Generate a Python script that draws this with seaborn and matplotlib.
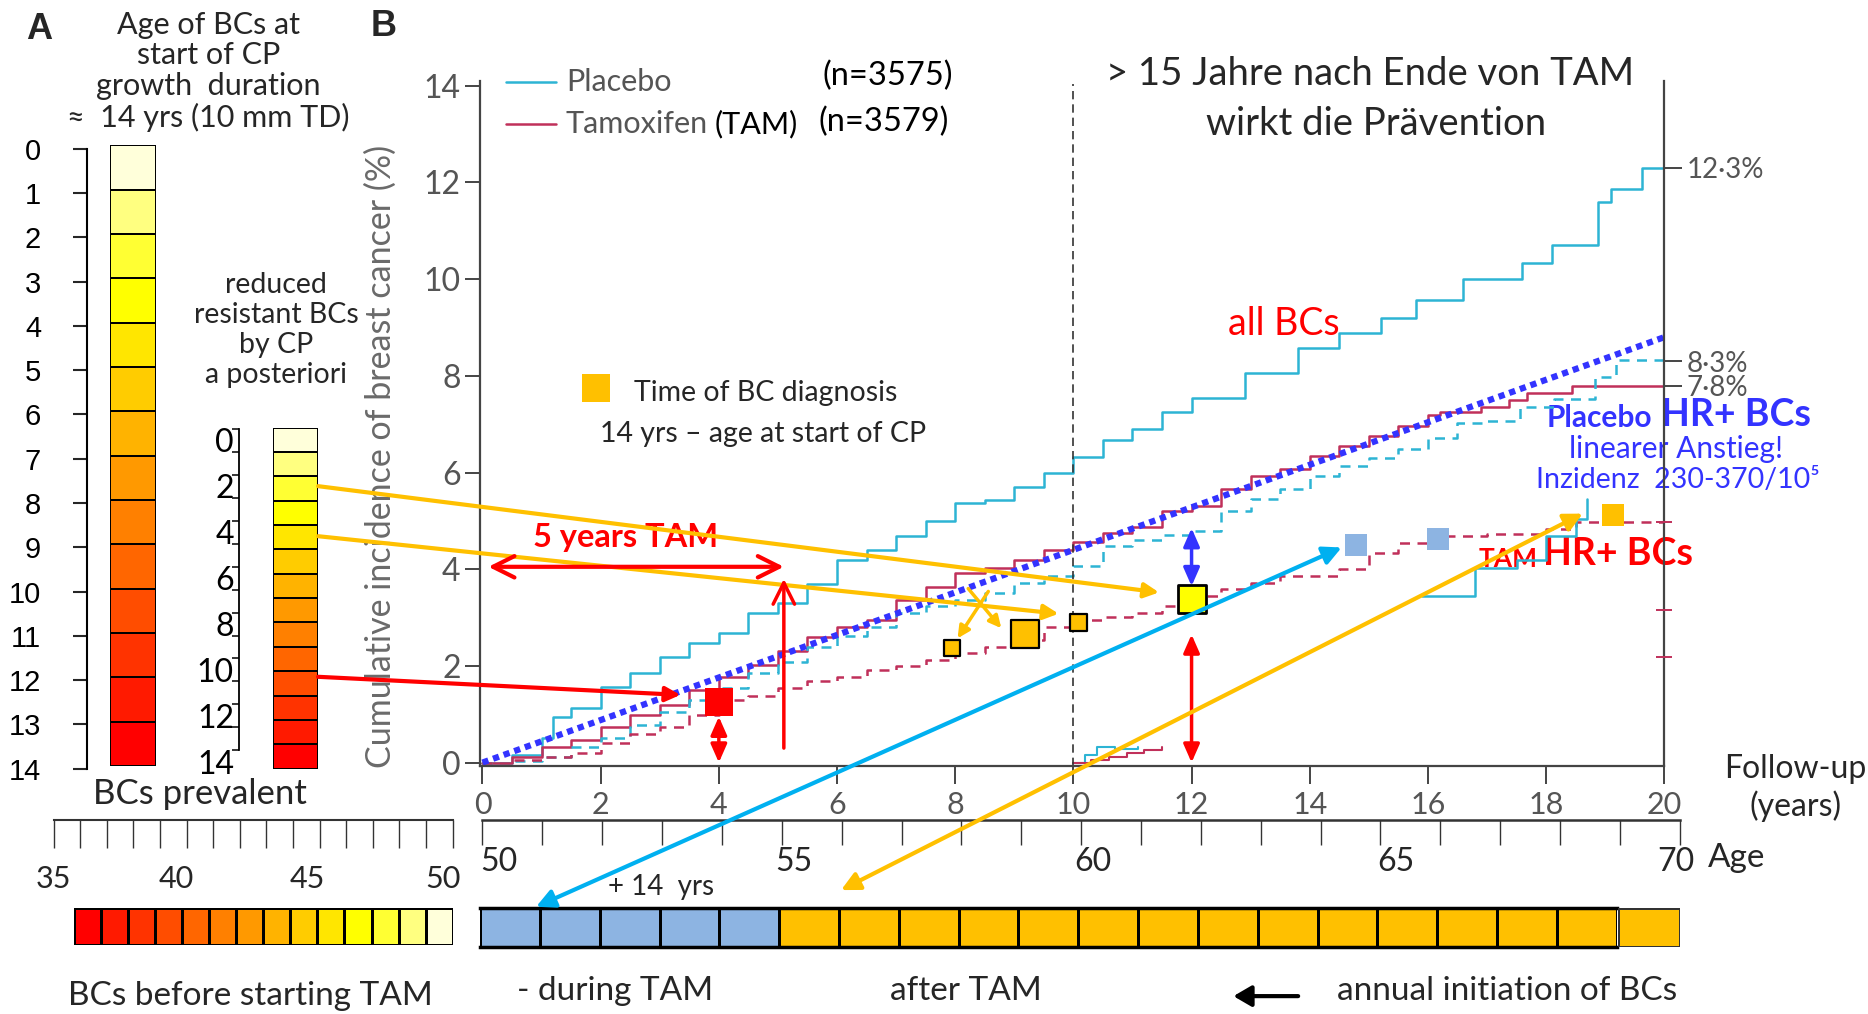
import matplotlib
matplotlib.use('Agg')
import numpy as np
import pandas as pd
import matplotlib.pyplot as plt
import matplotlib.transforms as mtransforms
import seaborn as sns
from matplotlib.colors import ListedColormap
from matplotlib.lines import Line2D
from matplotlib.patches import FancyArrowPatch

# ---------------- data ----------------
placebo_all_t = [0, 0.5, 1, 1.2, 1.5, 2, 2.5, 3, 3.5, 4, 4.5, 5, 5.5, 6, 6.5, 7, 7.5, 8, 8.5, 9,
                 9.5, 10, 10.5, 11, 11.5, 12, 12.9, 13.8, 14.5, 15.2, 15.8, 16.6, 17.6, 18.1,
                 18.7, 18.87, 19.1, 19.63, 20]
placebo_all_y = [0, 0.15, 0.5, 0.95, 1.12, 1.57, 1.85, 2.19, 2.47, 2.68, 3.1, 3.3, 3.7, 4.2, 4.4,
                 4.68, 5.0, 5.37, 5.43, 5.7, 6.0, 6.33, 6.68, 6.9, 7.26, 7.55, 8.05, 8.57, 8.88,
                 9.2, 9.56, 10.0, 10.33, 10.7, 10.7, 11.6, 11.87, 12.3, 12.3]

tam_all_t = [0, 0.5, 1, 1.5, 2, 2.5, 3, 3.5, 4, 4.5, 5, 5.5, 6, 6.5, 7, 7.5, 8, 8.5, 9, 9.5, 10,
             10.5, 11, 11.5, 12, 12.5, 13, 13.5, 14, 14.5, 15, 15.5, 16, 16.2, 16.9, 17.37,
             17.68, 18.43, 20]
tam_all_y = [0, 0.12, 0.33, 0.47, 0.74, 0.99, 1.19, 1.5, 1.78, 2.02, 2.3, 2.6, 2.81, 2.95, 3.37,
             3.64, 3.92, 4.02, 4.2, 4.4, 4.57, 4.74, 4.88, 5.2, 5.3, 5.66, 5.93, 6.07, 6.34, 6.55,
             6.76, 6.97, 7.2, 7.26, 7.35, 7.5, 7.65, 7.8, 7.8]

placebo_hr_t = [0, 0.5, 1, 1.5, 2, 2.5, 3, 3.5, 4, 4.5, 5, 5.5, 6, 6.5, 7, 7.5, 8, 8.5, 9, 9.5,
                10, 10.5, 11, 11.5, 12, 12.5, 13, 13.5, 14, 14.5, 15, 15.5, 16, 16.5, 17, 17.55,
                18.13, 18.83, 19.18, 20]
placebo_hr_y = [0, 0.04, 0.12, 0.33, 0.5, 0.78, 1.05, 1.3, 1.54, 1.85, 2.09, 2.4, 2.61, 2.81,
                3.09, 3.23, 3.37, 3.5, 3.71, 3.85, 4.06, 4.47, 4.6, 4.7, 4.8, 5.2, 5.45, 5.66,
                5.93, 6.14, 6.31, 6.48, 6.72, 7.03, 7.07, 7.35, 7.52, 7.97, 8.32, 8.32]

tam_hr_t = [0, 0.5, 1, 1.5, 2, 2.5, 3, 3.5, 4, 4.5, 5, 5.5, 6, 6.5, 7, 7.5, 8, 8.5, 9, 9.5, 10,
            10.5, 11, 11.5, 12, 12.5, 13, 13.5, 14.5, 15, 15.5, 16, 17, 18, 18.5, 20]
tam_hr_y = [0, 0.06, 0.12, 0.19, 0.4, 0.6, 0.74, 0.99, 1.3, 1.37, 1.54, 1.68, 1.78, 1.92, 1.99,
            2.12, 2.26, 2.4, 2.54, 2.81, 2.95, 3.02, 3.09, 3.23, 3.45, 3.59, 3.72, 3.86, 4.0,
            4.34, 4.55, 4.69, 4.72, 4.83, 4.97, 4.97]

inset_placebo_t = [10.0, 10.2, 10.4, 10.7, 11.1]
inset_placebo_y = [0.0, 0.15, 0.33, 0.28, 0.33]
inset_tam_t = [10.0, 10.3, 10.6, 10.9, 11.2, 11.5]
inset_tam_y = [0.0, 0.05, 0.12, 0.2, 0.27, 0.33]
late_placebo_t = [15.9, 16.8, 17.5, 18.0, 18.5, 18.7]
late_placebo_y = [3.45, 4.03, 4.2, 4.69, 5.03, 5.45]

linear_trend_t = [0, 20]
linear_trend_y = [0, 8.8]

diag_red_t, diag_red_y = [4.0], [1.26]
diag_orange_t = [7.95, 9.18, 10.08]
diag_orange_y = [2.37, 2.66, 2.9]
diag_yellow_t, diag_yellow_y = [12.0], [3.39]
diag_blue_t = [14.79, 16.17]
diag_blue_y = [4.5, 4.62]
diag_late_t, diag_late_y = [19.13], [5.12]

end_values = [12.3, 8.3, 7.8]
end_labels = ['12·3%', '8·3%', '7·8%']
hr_tick_values = [4.97, 3.16, 2.19]

age_scale_years = list(range(0, 15))
age_scale_labels = [str(v) for v in range(0, 15)]
resistant_labels = [str(v) for v in range(0, 15, 2)]
follow_ticks = list(range(0, 21, 2))
age_ticks = [50, 55, 60, 65, 70]
pre_age_ticks = [35, 40, 45, 50]
bar_blue_years = 5
bar_orange_years = 14

# ---------------- style ----------------
CYAN = '#2DB4D4'
CRIMSON = '#C0305A'
ORANGE = '#FFC000'
RED = '#FF0000'
BLUE = '#3333FF'
ARROW_CYAN = '#00B0F0'
LIGHTBLUE = '#8DB4E2'
GRAY = '#555555'
colors14 = ['#FFFFDA', '#FFFF80', '#FFFF33', '#FFFF00', '#FFE600', '#FFCC00', '#FFB300',
            '#FF9900', '#FF8000', '#FF6600', '#FF4D00', '#FF3300', '#FF1A00', '#FF0000']
cmap14 = ListedColormap(colors14)

sns.set_theme(style='white')
plt.rcParams['font.family'] = ['Lato', 'DejaVu Sans']
ARIAL = ['Liberation Sans', 'DejaVu Sans']

W, H = 1868, 1014
SW, SH = 1568.0, 851.0   # layout coordinates (reference preview scale)
K = W / SW
fig = plt.figure(figsize=(W / 100, H / 100), dpi=100)
fig.patch.set_facecolor('white')


def box(l, t, r, b):
    return [l / SW, 1 - b / SH, (r - l) / SW, (b - t) / SH]


def fp(x, y):
    return (x / SW, 1 - y / SH)


def ftext(x, y, s, **kw):
    fig.text(x / SW, 1 - y / SH, s, **kw)


def shift_labels(labels, dxs):
    for lab, dx in zip(labels, dxs):
        off = mtransforms.ScaledTranslation(dx * K / 100.0, 0, fig.dpi_scale_trans)
        lab.set_transform(lab.get_transform() + off)


# ---------------- panel A: vertical colour bars ----------------
axA1 = fig.add_axes(box(92, 122, 131, 643))
sns.heatmap(np.arange(14).reshape(14, 1), cmap=cmap14, cbar=False, linewidths=1.3,
            linecolor='black', ax=axA1, xticklabels=False, yticklabels=False, vmin=-0.5, vmax=13.5)

axA1s = fig.add_axes(box(73, 125, 73.5, 645))
axA1s.patch.set_visible(False)
axA1s.set_ylim(14, 0)
axA1s.set_xticks([])
axA1s.set_yticks(age_scale_years)
axA1s.set_yticklabels(age_scale_labels, family=ARIAL, fontsize=21, color='black')
for s in ['top', 'right', 'bottom']:
    axA1s.spines[s].set_visible(False)
axA1s.spines['left'].set_color('black')
axA1s.spines['left'].set_linewidth(1.5)
axA1s.tick_params(axis='y', direction='out', length=10, width=1.5, pad=23, left=True)

axA2 = fig.add_axes(box(229, 359, 267, 645))
sns.heatmap(np.arange(14).reshape(14, 1), cmap=cmap14, cbar=False, linewidths=1.2,
            linecolor='black', ax=axA2, xticklabels=False, yticklabels=False, vmin=-0.5, vmax=13.5)

axA2s = fig.add_axes(box(201, 360, 201.5, 640.3))
axA2s.patch.set_visible(False)
axA2s.set_ylim(14.55, 0)
axA2s.set_xticks([])
axA2s.set_yticks([v + 0.5 for v in range(0, 15, 2)])
axA2s.set_yticklabels(resistant_labels, fontsize=23, color='black')
axA2s.set_yticks(age_scale_years, minor=True)
for s in ['top', 'right', 'bottom']:
    axA2s.spines[s].set_visible(False)
axA2s.spines['left'].set_bounds(0, 14)
axA2s.spines['left'].set_color('black')
axA2s.spines['left'].set_linewidth(1.3)
axA2s.tick_params(axis='y', which='major', length=0, pad=4, left=True)
axA2s.tick_params(axis='y', which='minor', direction='out', length=5, width=1.3, left=True)

# bottom-left scale and bar
axPre = fig.add_axes(box(45, 687, 380, 688.5))
axPre.patch.set_visible(False)
axPre.set_xlim(35, 50)
axPre.set_yticks([])
axPre.set_xticks(pre_age_ticks)
axPre.set_xticklabels([str(v) for v in pre_age_ticks], fontsize=22)
axPre.set_xticks(range(35, 51), minor=True)
for s in ['top', 'right', 'left']:
    axPre.spines[s].set_visible(False)
axPre.spines['bottom'].set_color('#333333')
axPre.spines['bottom'].set_linewidth(1.5)
axPre.tick_params(axis='x', which='both', direction='out', length=20, width=1, color='#333333',
                  bottom=True, pad=12)
shift_labels(axPre.get_xticklabels(), [0, -9, -10, -8])

axPreBar = fig.add_axes(box(62, 762, 380, 793))
sns.heatmap(np.arange(14)[::-1].reshape(1, 14), cmap=cmap14, cbar=False, linewidths=1.0,
            linecolor='black', ax=axPreBar, xticklabels=False, yticklabels=False, vmin=-0.5, vmax=13.5)

# ---------------- bottom age axis and bar ----------------
axAge = fig.add_axes(box(405, 687, 1410, 688.5))
axAge.patch.set_visible(False)
axAge.set_xlim(50, 70)
axAge.set_yticks([])
axAge.set_xticks(age_ticks)
axAge.set_xticklabels([str(v) for v in age_ticks], fontsize=23)
axAge.set_xticks(range(50, 71), minor=True)
for s in ['top', 'right', 'left']:
    axAge.spines[s].set_visible(False)
axAge.spines['bottom'].set_color('#333333')
axAge.spines['bottom'].set_linewidth(1.8)
axAge.tick_params(axis='x', which='both', direction='out', length=18, width=1, color='#333333',
                  bottom=True, pad=1)
shift_labels(axAge.get_xticklabels(), [14, 10, 10, 13, -3])

bar_vals = np.array([[0] * bar_blue_years + [1] * bar_orange_years])
axBar = fig.add_axes(box(403, 762, 1357, 795))
sns.heatmap(bar_vals, cmap=ListedColormap([LIGHTBLUE, ORANGE]), cbar=False, linewidths=1.0,
            linecolor='black', ax=axBar, xticklabels=False, yticklabels=False, vmin=-0.5, vmax=1.5)
for s in ['top', 'bottom']:
    axBar.spines[s].set_visible(True)
    axBar.spines[s].set_linewidth(2.5)
    axBar.spines[s].set_color('black')

axBar2 = fig.add_axes(box(1358, 762, 1410, 795))
sns.heatmap(np.array([[1]]), cmap=ListedColormap([LIGHTBLUE, ORANGE]), cbar=False,
            linewidths=1.0, linecolor='#333333', ax=axBar2, xticklabels=False, yticklabels=False,
            vmin=-0.5, vmax=1.5)

# ---------------- panel B: cumulative incidence ----------------
px_per_unit = (640 - 72) / 14.0
axB = fig.add_axes(box(403, 68, 1397, 643))
axB.set_zorder(10)
axB.patch.set_visible(False)
axB.set_xlim(-2 / 49.6, 20)
axB.set_ylim(-3 / px_per_unit, 14 + 4 / px_per_unit)

sns.lineplot(x=placebo_all_t, y=placebo_all_y, ax=axB, color=CYAN, lw=1.8,
             drawstyle='steps-post', estimator=None, sort=False)
sns.lineplot(x=tam_all_t, y=tam_all_y, ax=axB, color=CRIMSON, lw=1.8,
             drawstyle='steps-post', estimator=None, sort=False)
sns.lineplot(x=placebo_hr_t, y=placebo_hr_y, ax=axB, color=CYAN, lw=1.8,
             drawstyle='steps-post', estimator=None, sort=False, linestyle=(0, (4, 3)))
sns.lineplot(x=tam_hr_t, y=tam_hr_y, ax=axB, color=CRIMSON, lw=1.8,
             drawstyle='steps-post', estimator=None, sort=False, linestyle=(0, (4, 3)))
sns.lineplot(x=inset_placebo_t, y=inset_placebo_y, ax=axB, color=CYAN, lw=1.5,
             drawstyle='steps-post', estimator=None, sort=False)
sns.lineplot(x=inset_tam_t, y=inset_tam_y, ax=axB, color=CRIMSON, lw=1.5,
             drawstyle='steps-post', estimator=None, sort=False)
sns.lineplot(x=late_placebo_t, y=late_placebo_y, ax=axB, color=CYAN, lw=1.8,
             drawstyle='steps-post', estimator=None, sort=False)
sns.lineplot(x=linear_trend_t, y=linear_trend_y, ax=axB, color=BLUE, lw=4.5,
             linestyle=(0, (1.0, 0.8)), estimator=None, sort=False)

axB.axvline(10, color='#333333', lw=1.2, linestyle=(0, (5, 3)), ymax=0.995)

# spines / ticks
axB.spines['top'].set_visible(False)
for s in ['left', 'bottom', 'right']:
    axB.spines[s].set_visible(True)
    axB.spines[s].set_color('#444444')
    axB.spines[s].set_linewidth(1.6)
axB.set_yticks(range(0, 15, 2))
axB.set_yticklabels([str(v) for v in range(0, 15, 2)], fontsize=23, color=GRAY)
axB.set_xticks(follow_ticks)
axB.set_xticklabels([str(v) for v in follow_ticks], fontsize=22, color=GRAY)
axB.tick_params(axis='y', direction='out', length=11, width=1.4, color='#444444', left=True, pad=3)
axB.tick_params(axis='x', direction='out', length=13, width=1.4, color='#444444', bottom=True, pad=5)
axB.set_xlabel('')
axB.set_ylabel('')

axR = axB.twinx()
axR.set_ylim(axB.get_ylim())
axR.patch.set_visible(False)
for s in ['top', 'left', 'bottom', 'right']:
    axR.spines[s].set_visible(False)
axR.set_yticks(end_values)
axR.set_yticklabels(end_labels, fontsize=20, color=GRAY)
axR.set_yticks(hr_tick_values, minor=True)
axR.tick_params(axis='y', which='major', direction='out', length=13, width=1.4, color='#444444',
                right=True, pad=3)
axR.tick_params(axis='y', which='minor', direction='inout', length=12, width=1.4, color=CRIMSON,
                right=True)

# diagnosis squares
axB.scatter(diag_red_t, diag_red_y, marker='s', s=400, color=RED, edgecolor='none', zorder=6)
axB.scatter(diag_orange_t, diag_orange_y, marker='s', s=[130, 400, 150], color=ORANGE,
            edgecolor='black', linewidth=1.6, zorder=6)
axB.scatter(diag_yellow_t, diag_yellow_y, marker='s', s=380, color='#FFFF00',
            edgecolor='black', linewidth=2.0, zorder=6)
axB.scatter(diag_blue_t, diag_blue_y, marker='s', s=250, color=LIGHTBLUE, edgecolor='none', zorder=6)
axB.scatter(diag_late_t, diag_late_y, marker='s', s=250, color=ORANGE, edgecolor='none', zorder=6)
axB.scatter([1.92], [7.75], marker='s', s=390, color=ORANGE, edgecolor='none', zorder=6)


# ---------------- arrows ----------------
def arrow(xy, xytext, color, style='-|>', lw=3.0, ms=22, textcoords='data'):
    axB.annotate('', xy=xy, xycoords='data', xytext=xytext, textcoords=textcoords,
                 arrowprops=dict(arrowstyle=style, color=color, lw=lw, mutation_scale=ms,
                                 shrinkA=0, shrinkB=0),
                 annotation_clip=False, zorder=7)


FF = 'figure fraction'
arrow((11.45, 3.52), fp(267, 408), ORANGE, textcoords=FF)
arrow((9.75, 3.08), fp(267, 450), ORANGE, textcoords=FF)
arrow((3.35, 1.4), fp(267, 568), RED, textcoords=FF)
arrow((5.1, 4.05), (0.1, 4.05), RED, style='<->,head_length=0.7,head_width=0.35', lw=3)
arrow((5.1, 3.8), (5.1, 0.3), RED, style='->,head_length=0.7,head_width=0.35', lw=2.5)
arrow((4.0, 0.95), (4.0, 0.0), RED, style='<|-|>,head_length=0.5,head_width=0.22', lw=2.5)
arrow((12.0, 2.65), (12.0, 0.0), RED, style='<|-|>,head_length=0.5,head_width=0.22', lw=2.5)
arrow((12.0, 4.85), (12.0, 3.65), BLUE, style='<|-|>,head_length=0.5,head_width=0.22', lw=2.5)
arrow((8.78, 2.78), (8.22, 3.6), ORANGE, lw=2.5, ms=18)
arrow((8.04, 2.57), (8.56, 3.54), ORANGE, lw=2.5, ms=18)
arrow((14.54, 4.45), fp(450, 761), ARROW_CYAN, style='<|-|>,head_length=0.5,head_width=0.25',
      lw=3, textcoords=FF)
arrow((18.62, 5.15), fp(706, 747), ORANGE, style='<|-|>,head_length=0.5,head_width=0.25',
      lw=3, textcoords=FF)

# ---------------- texts ----------------
ftext(33, 25, 'A', fontsize=26, fontweight='bold', ha='center', va='center', family=ARIAL)
ftext(322, 22, 'B', fontsize=26, fontweight='bold', ha='center', va='center', family=ARIAL)
ftext(175, 60, 'Age of BCs at\nstart of CP\ngrowth  duration\n\u2248  14 yrs (10 mm TD)',
      fontsize=22, ha='center', va='center', linespacing=1.12)
ftext(232, 277, 'reduced\nresistant BCs\nby CP\na posteriori', fontsize=20.5, ha='center',
      va='center', linespacing=1.2)
ftext(168, 666, 'BCs prevalent', fontsize=25, ha='center', va='center')

ftext(320, 383, 'Cumulative incidence of breast cancer (%)', fontsize=24.5, color='#6A6A6A',
      rotation=90, ha='center', va='center')

fig.add_artist(Line2D([425 / SW, 467 / SW], [1 - 69 / SH, 1 - 69 / SH], color=CYAN, lw=1.8))
fig.add_artist(Line2D([425 / SW, 467 / SW], [1 - 104 / SH, 1 - 104 / SH], color=CRIMSON, lw=1.8))
ftext(475, 69, 'Placebo', fontsize=22, color=GRAY, ha='left', va='center')
ftext(475, 104, 'Tamoxifen', fontsize=22, color=GRAY, ha='left', va='center')
ftext(600, 104, '(TAM)', fontsize=22, color='black', ha='left', va='center')
ftext(690, 64, '(n=3575)', fontsize=23.5, color='black', ha='left', va='center')
ftext(687, 102, '(n=3579)', fontsize=23.5, color='black', ha='left', va='center')

ftext(1150, 62, '> 15 Jahre nach Ende von TAM', fontsize=27.5, ha='center', va='center')
ftext(1155, 104, 'wirkt die Prävention', fontsize=27.5, ha='center', va='center')

ftext(532, 330, 'Time of BC diagnosis', fontsize=20.5, ha='left', va='center')
ftext(504, 364, '14 yrs \u2013 age at start of CP', fontsize=20.5, ha='left', va='center')
ftext(525, 451, '5 years TAM', fontsize=23.5, color=RED, fontweight='bold', ha='center', va='center')
ftext(1078, 272, 'all BCs', fontsize=27, color=RED, ha='center', va='center')

ftext(1387, 351, 'Placebo', fontsize=21.5, color=BLUE, fontweight='bold', ha='right', va='center')
ftext(1394, 348, 'HR+ BCs', fontsize=27, color=BLUE, fontweight='bold', ha='left', va='center')
ftext(1407, 377, 'linearer Anstieg!', fontsize=21.5, color=BLUE, ha='center', va='center')
ftext(1408, 403, 'Inzidenz  230-370/10\u2075', fontsize=20.5, color=BLUE, ha='center', va='center')
ftext(1291, 469, 'TAM', fontsize=19, color=RED, fontweight='bold', ha='right', va='center')
ftext(1295, 465, 'HR+ BCs', fontsize=27, color=RED, fontweight='bold', ha='left', va='center')

ftext(1507, 645, 'Follow-up', fontsize=23, ha='center', va='center')
ftext(1507, 677, '(years)', fontsize=23, ha='center', va='center')
ftext(1434, 720, 'Age', fontsize=24, ha='left', va='center')
ftext(555, 744, '+ 14  yrs', fontsize=20, ha='center', va='center')

ftext(210, 836, 'BCs before starting TAM', fontsize=24, ha='center', va='center')
ftext(516, 832, '- during TAM', fontsize=24, ha='center', va='center')
ftext(811, 832, 'after TAM', fontsize=24, ha='center', va='center')
ftext(1265, 832, 'annual initiation of BCs', fontsize=24, ha='center', va='center')
fig.add_artist(FancyArrowPatch(fp(1092, 836), fp(1033, 836), transform=fig.transFigure,
                               arrowstyle='-|>,head_length=0.6,head_width=0.35',
                               mutation_scale=18, color='black', lw=3))

fig.savefig('out.png', dpi=100, facecolor='white')
